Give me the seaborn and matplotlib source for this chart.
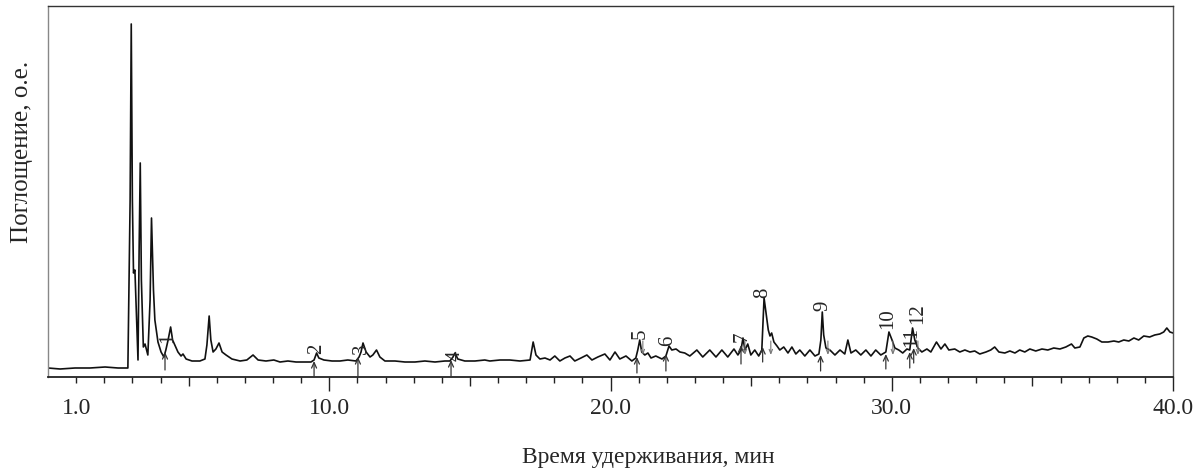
import numpy as np
import matplotlib
matplotlib.use('Agg')
import matplotlib.pyplot as plt
import seaborn as sns

# Chromatogram trace (retention time, min / absorbance, arb. units)
rt = [0.00, 0.43, 0.96, 1.49, 2.03, 2.49, 2.84, 2.92, 2.96, 3.00,
      3.04, 3.09, 3.15, 3.20, 3.24, 3.28, 3.32, 3.39, 3.45, 3.55,
      3.63, 3.68, 3.75, 3.80, 3.91, 4.02, 4.12, 4.19, 4.27, 4.36,
      4.43, 4.51, 4.62, 4.73, 4.80, 4.91, 5.12, 5.40, 5.58, 5.65,
      5.73, 5.79, 5.87, 5.97, 6.08, 6.19, 6.33, 6.54, 6.83, 7.07,
      7.29, 7.47, 7.75, 8.03, 8.25, 8.53, 8.82, 9.10, 9.35, 9.46,
      9.55, 9.63, 9.81, 10.10, 10.38, 10.66, 10.95, 11.06, 11.13, 11.20,
      11.31, 11.45, 11.55, 11.68, 11.80, 11.98, 12.34, 12.69, 13.05, 13.40,
      13.76, 14.11, 14.29, 14.40, 14.47, 14.57, 14.82, 15.18, 15.53, 15.71,
      16.07, 16.42, 16.78, 17.14, 17.25, 17.35, 17.49, 17.67, 17.85, 18.02,
      18.20, 18.38, 18.56, 18.73, 18.95, 19.16, 19.34, 19.55, 19.80, 19.98,
      20.16, 20.33, 20.55, 20.76, 20.90, 20.97, 21.04, 21.11, 21.22, 21.33,
      21.44, 21.61, 21.83, 21.97, 22.08, 22.18, 22.33, 22.47, 22.64, 22.82,
      23.07, 23.28, 23.53, 23.75, 23.96, 24.17, 24.39, 24.53, 24.64, 24.71,
      24.78, 24.88, 24.99, 25.13, 25.27, 25.38, 25.46, 25.54, 25.61, 25.67,
      25.73, 25.81, 25.92, 26.02, 26.16, 26.31, 26.45, 26.59, 26.73, 26.91,
      27.09, 27.27, 27.41, 27.48, 27.53, 27.58, 27.66, 27.80, 27.98, 28.16,
      28.33, 28.44, 28.55, 28.72, 28.90, 29.08, 29.26, 29.43, 29.61, 29.79,
      29.90, 30.01, 30.11, 30.25, 30.39, 30.54, 30.64, 30.74, 30.82, 30.93,
      31.07, 31.25, 31.39, 31.59, 31.75, 31.89, 32.03, 32.24, 32.42, 32.60,
      32.78, 32.95, 33.13, 33.35, 33.52, 33.66, 33.81, 34.02, 34.20, 34.38,
      34.55, 34.73, 34.91, 35.12, 35.34, 35.55, 35.76, 35.98, 36.19, 36.39,
      36.51, 36.69, 36.83, 36.97, 37.11, 37.29, 37.47, 37.69, 37.90, 38.07,
      38.25, 38.43, 38.61, 38.78, 38.96, 39.17, 39.35, 39.53, 39.67, 39.78,
      39.89, 40.00]
signal = [9, 8, 9, 9, 10, 9, 9, 177, 353, 177,
          104, 107, 57, 17, 127, 214, 97, 30, 33, 22,
          77, 159, 87, 57, 35, 25, 20, 27, 37, 50,
          37, 32, 25, 21, 23, 18, 16, 16, 18, 32,
          61, 37, 25, 28, 34, 25, 22, 18, 16, 17,
          22, 17, 16, 17, 15, 16, 15, 15, 15, 17,
          24, 19, 17, 16, 16, 17, 16, 20, 25, 34,
          25, 20, 22, 27, 20, 16, 16, 15, 15, 16,
          15, 16, 16, 20, 24, 18, 16, 16, 17, 16,
          17, 17, 16, 17, 35, 22, 18, 19, 17, 21,
          16, 19, 21, 16, 19, 22, 17, 20, 23, 17,
          25, 18, 21, 16, 19, 27, 37, 25, 22, 24,
          19, 21, 18, 21, 31, 27, 28, 25, 24, 21,
          27, 20, 27, 20, 27, 20, 28, 22, 27, 39,
          27, 33, 22, 27, 21, 27, 79, 62, 47, 41,
          44, 35, 31, 27, 30, 24, 30, 23, 27, 21,
          27, 21, 23, 37, 65, 42, 29, 27, 22, 27,
          23, 37, 24, 27, 22, 27, 21, 27, 22, 25,
          45, 37, 29, 27, 24, 28, 27, 49, 37, 29,
          25, 28, 25, 35, 28, 33, 27, 28, 25, 27,
          25, 26, 23, 25, 27, 30, 25, 24, 26, 24,
          27, 25, 28, 26, 28, 27, 29, 28, 30, 33,
          29, 30, 39, 41, 40, 38, 35, 35, 36, 35,
          37, 36, 39, 37, 41, 40, 42, 43, 45, 49,
          45, 44]

# Integrated peaks: start arrows and number labels
peak_ids = ['1', '2', '3', '4', '5', '6', '7', '8', '9', '10', '11', '12']
peak_start = [4.16, 9.46, 11.02, 14.33, 20.94, 21.97, 24.64, 25.41, 27.47, 29.79, 30.64, 30.78]
arrow_tail = [7, 0, 0, 0, 4, 6, 13, 15, 6, 8, 9, 14]
arrow_head = [25, 16, 20, 17, 20, 23, 32, 30, 22, 23, 25, 29]
label_rt = [4.27, 9.56, 11.16, 14.47, 21.04, 22.04, 24.67, 25.42, 27.55, 29.86, 30.71, 30.93]
label_y = [34, 23, 23, 16, 38, 31, 35, 79, 66, 48, 30, 53]
peak_end = [21.15, 24.78, 25.70, 27.73, 30.04, 30.93]

sns.set_style('white')
plt.rcParams['font.family'] = ['Liberation Serif', 'DejaVu Serif']

fig = plt.figure(figsize=(12.04, 4.74), dpi=100)
ax = fig.add_axes([48/1204, 1 - 377/474, 1125/1204, 371/474])

sns.lineplot(x=rt, y=signal, ax=ax, color='#111111', linewidth=1.2,
             estimator=None, sort=False)

for x, t, h in zip(peak_start, arrow_tail, arrow_head):
    ax.annotate('', xy=(x, h), xytext=(x, t),
                arrowprops=dict(arrowstyle='->,head_length=0.4,head_width=0.18',
                                color='#333333', lw=0.9, shrinkA=0, shrinkB=0))
for x in peak_end:
    ax.annotate('', xy=(x, 22), xytext=(x, 36),
                arrowprops=dict(arrowstyle='->,head_length=0.3,head_width=0.12',
                                color='#777777', lw=0.8, shrinkA=0, shrinkB=0))

for lab, x, y in zip(peak_ids, label_rt, label_y):
    ax.text(x, y, lab, rotation=90, ha='center', va='bottom', fontsize=15)

ax.set_xlim(0, 40)
ax.set_ylim(0, 371)
ax.set_yticks([])

major = [10, 20, 30, 40]
ax.set_xticks(major, labels=['10.0', '20.0', '30.0', '40.0'])
minor = [m for m in range(1, 40) if m % 5 != 0]
ax.set_xticks(minor, labels=['1.0' if m == 1 else '' for m in minor], minor=True)
ax.tick_params(axis='x', which='major', bottom=True, direction='out', length=10,
               width=1.0, pad=5, labelsize=17, color='#222222')
ax.tick_params(axis='x', which='minor', bottom=True, direction='out', length=4.3,
               width=1.0, pad=10.7, labelsize=17, color='#222222')

sec = ax.secondary_xaxis('bottom')
sec.set_xticks([5, 15, 25, 35])
sec.tick_params(axis='x', direction='out', length=6.5, width=1.0, labelbottom=False,
                color='#222222')
sec.spines['bottom'].set_visible(False)

for side in ['left', 'right', 'top', 'bottom']:
    ax.spines[side].set_visible(True)
ax.spines['bottom'].set_color('#222222')
ax.spines['bottom'].set_linewidth(1.3)
ax.spines['left'].set_color('#888888')
ax.spines['right'].set_color('#555555')
ax.spines['top'].set_color('#333333')
for side in ['left', 'right', 'top']:
    ax.spines[side].set_linewidth(1.0)

fig.text(648/1204, 1 - 457/474, 'Время удерживания, мин', ha='center', va='center',
         fontsize=17)
fig.text(22/1204, 1 - 152/474, 'Поглощение, о.е.', ha='center', va='center',
         rotation=90, fontsize=18)

plt.savefig('out.png', dpi=100)
